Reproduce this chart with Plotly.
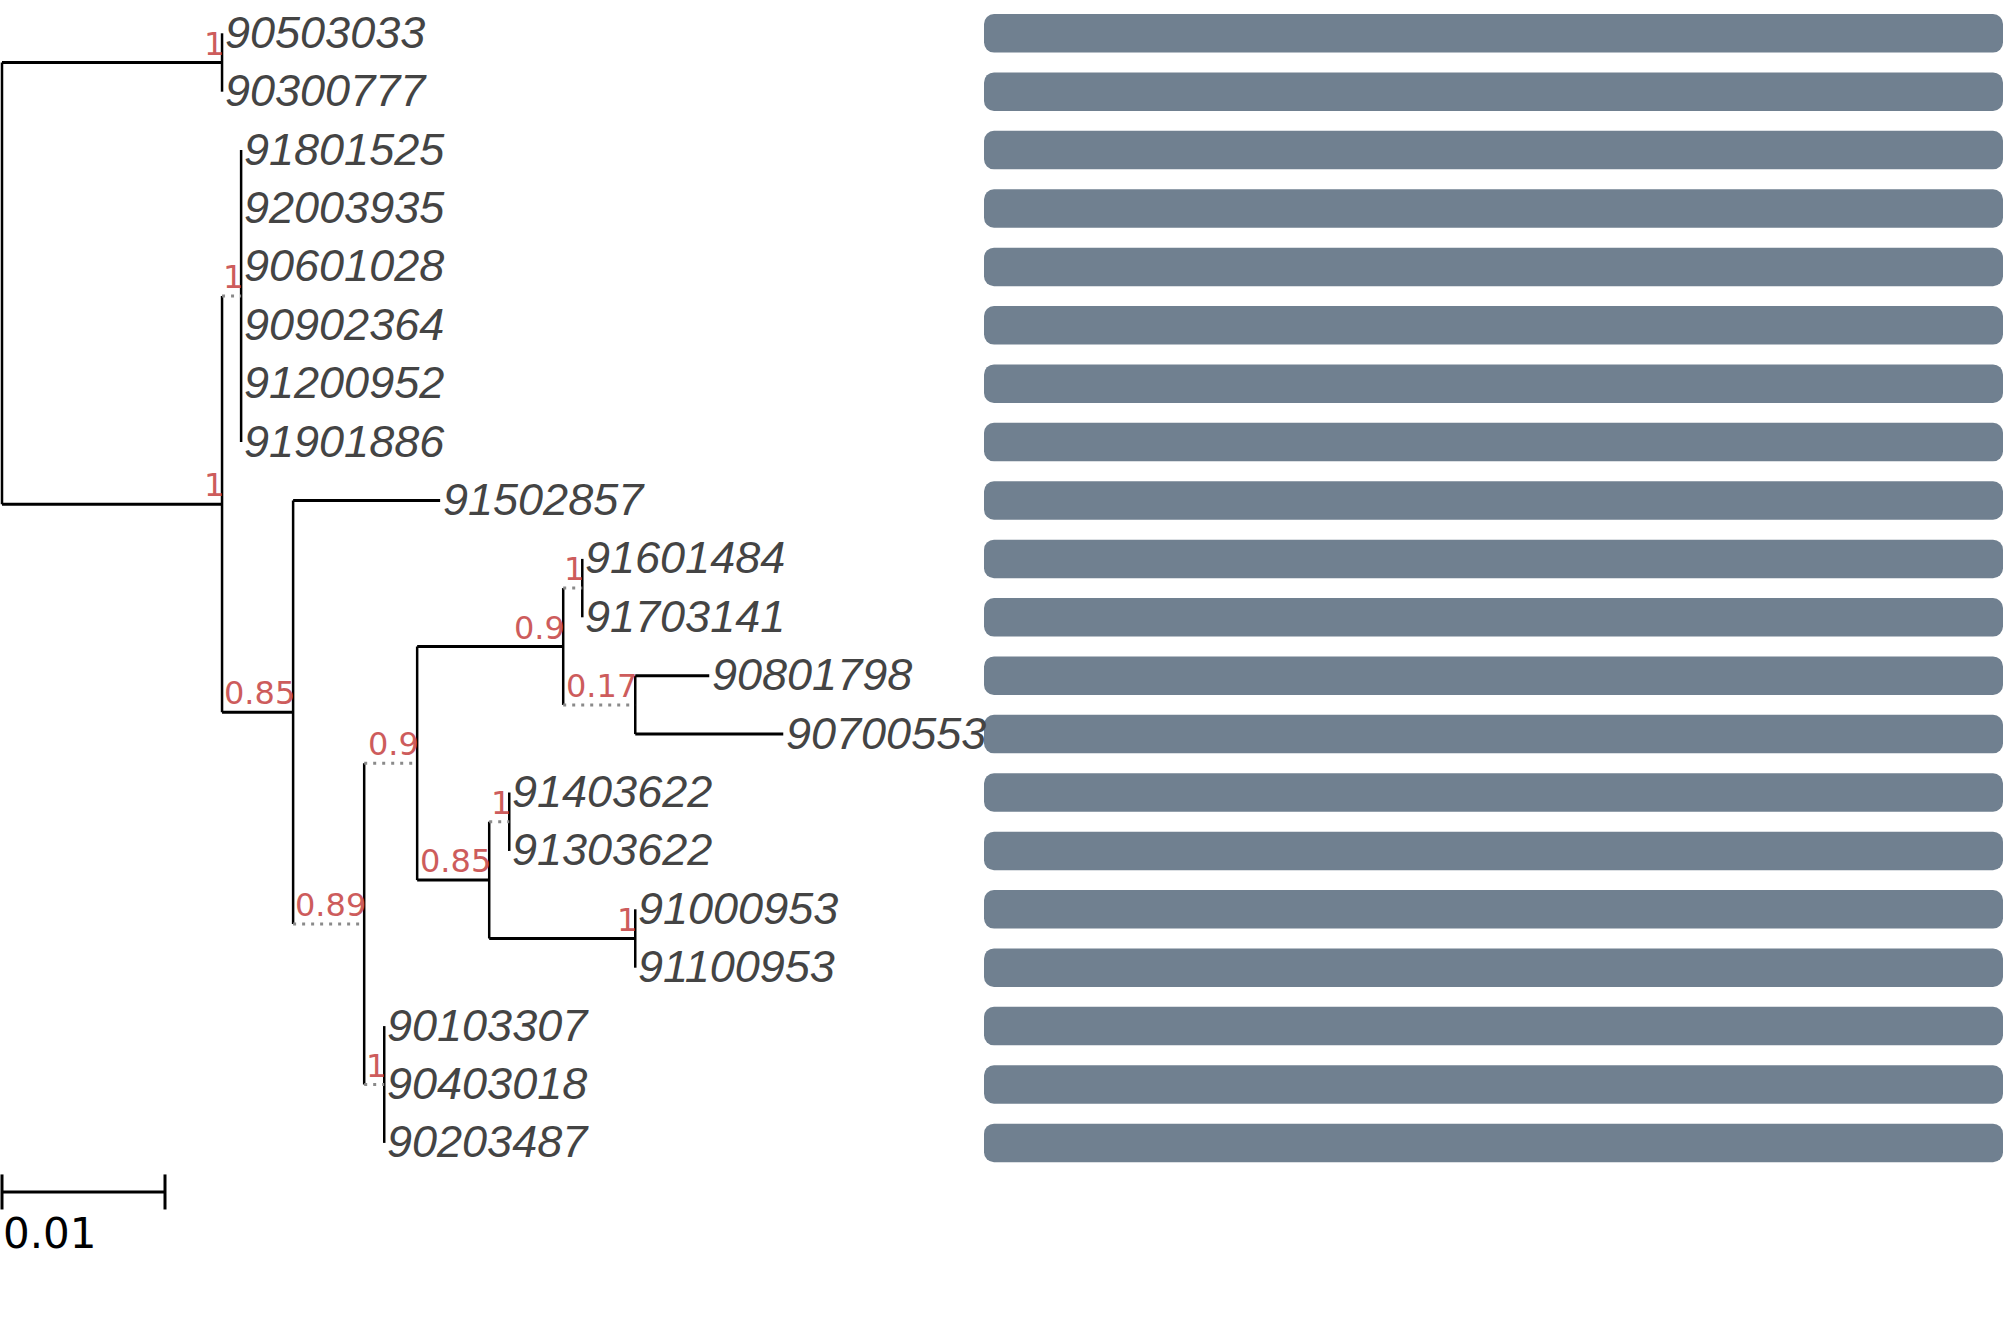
import plotly.graph_objects as go

# tree: internal nodes (branch lengths in substitutions/site)
node_id = ["root", "a", "b", "c", "d", "e", "f", "h", "i", "j", "k", "l", "m", "g"]
node_parent = [None, "root", "root", "b", "b", "d", "e", "f", "h", "h", "f", "k", "k", "e"]
node_length = [0, 0.0135, 0.0135, 0.00117, 0.00436, 0.00436, 0.00325, 0.00896,
               0.00117, 0.00442, 0.00442, 0.00123, 0.00896, 0.00123]
node_support = [None, "1", "1", "1", "0.85", "0.89", "0.9", "0.9", "1", "0.17", "0.85", "1", "1", "1"]
node_dotted = [False, False, False, True, False, True, True, False, True, True, False, True, False, True]

# leaves, top to bottom
leaf_names = ["90503033", "90300777", "91801525", "92003935", "90601028", "90902364",
              "91200952", "91901886", "91502857", "91601484", "91703141", "90801798",
              "90700553", "91403622", "91303622", "91000953", "91100953", "90103307",
              "90403018", "90203487"]
leaf_parent = ["a", "a", "c", "c", "c", "c", "c", "c", "d", "i", "i", "j", "j",
               "l", "l", "m", "m", "g", "g", "g"]
leaf_length = [0, 0, 0, 0, 0, 0, 0, 0, 0.00902, 0, 0, 0.00454, 0.00908,
               0, 0, 0, 0, 0, 0, 0]

# bar face next to every leaf
bar_values = [1.0] * len(leaf_names)

scale_length = 0.01
scale_label = "0.01"

# ---- layout of the tree
parent = dict(zip(node_id, node_parent))
parent.update(dict(zip(leaf_names, leaf_parent)))
length = dict(zip(node_id, node_length))
length.update(dict(zip(leaf_names, leaf_length)))

children = {n: [] for n in node_id}
for n, p in zip(node_id, node_parent):
    if p is not None:
        children[p].append(n)
for n, p in zip(leaf_names, leaf_parent):
    children[p].append(n)

xpos = {}
def set_x(n, x0):
    xpos[n] = x0 + length[n]
    for c in children.get(n, []):
        set_x(c, xpos[n])
set_x("root", 0.0)

ypos = {name: i for i, name in enumerate(leaf_names)}
def set_y(n):
    if n in ypos:
        return ypos[n]
    ys = [set_y(c) for c in children[n]]
    ypos[n] = (min(ys) + max(ys)) / 2
    return ypos[n]
set_y("root")

dotted = dict(zip(node_id, node_dotted))

hx, hy, dx, dy, vx, vy = [], [], [], [], [], []
for n in node_id[1:] + leaf_names:
    p = parent[n]
    if length[n] <= 0:
        continue
    if dotted.get(n, False):
        dx += [xpos[p], xpos[n], None]
        dy += [ypos[n], ypos[n], None]
    else:
        hx += [xpos[p], xpos[n], None]
        hy += [ypos[n], ypos[n], None]
for n in node_id:
    ys = [ypos[c] for c in children[n]]
    vx += [xpos[n], xpos[n], None]
    vy += [min(ys), max(ys), None]

fig = go.Figure()
fig.add_trace(go.Scatter(x=vx, y=vy, mode="lines", line=dict(color="black", width=2.5),
                         hoverinfo="skip", showlegend=False))
fig.add_trace(go.Scatter(x=hx, y=hy, mode="lines", line=dict(color="black", width=3),
                         hoverinfo="skip", showlegend=False))
fig.add_trace(go.Scatter(x=dx, y=dy, mode="lines",
                         line=dict(color="#8a8a8a", width=3, dash="3px,6px"),
                         hoverinfo="skip", showlegend=False))

# bars next to the leaves
rows = list(range(len(leaf_names)))
fig.add_trace(go.Bar(x=bar_values, base=[0] * len(bar_values),
                     y=rows, orientation="h", width=0.66, xaxis="x2",
                     marker=dict(color="#708090", line=dict(width=0), cornerradius=10),
                     hoverinfo="skip", showlegend=False))

# scale bar
sy = len(leaf_names) - 0.16
fig.add_trace(go.Scatter(x=[0, scale_length, None, 0, 0, None, scale_length, scale_length],
                         y=[sy, sy, None, sy - 0.3, sy + 0.3, None, sy - 0.3, sy + 0.3],
                         mode="lines", line=dict(color="black", width=3),
                         hoverinfo="skip", showlegend=False))

annotations = []
for name in leaf_names:
    annotations.append(dict(x=xpos[name], y=ypos[name], text="<i>" + name + "</i>",
                            xanchor="left", yanchor="middle", xshift=1, yshift=1, showarrow=False,
                            font=dict(family="Liberation Sans", size=45, color="#444444")))
for n, s in zip(node_id, node_support):
    if s is None:
        continue
    annotations.append(dict(x=xpos[n], y=ypos[n], text=s, xanchor="right", yanchor="bottom",
                            xshift=4, yshift=-2, showarrow=False,
                            font=dict(family="DejaVu Sans", size=32, color="#cd5c5c")))
annotations.append(dict(x=0, y=sy + 0.71, text=scale_label, xanchor="left", yanchor="middle",
                        showarrow=False, xshift=-1,
                        font=dict(family="DejaVu Sans", size=42, color="black")))

W, H = 2007, 1338
fig.update_layout(
    width=W, height=H,
    margin=dict(l=0, r=0, t=0, b=0),
    paper_bgcolor="white", plot_bgcolor="white",
    annotations=annotations,
    xaxis=dict(range=[-2 / 16300, (W - 2) / 16300], visible=False, domain=[0, 1]),
    xaxis2=dict(range=[0, 1], visible=False, domain=[984 / W, 2003 / W], anchor="y"),
    yaxis=dict(range=[(H - 33.3) / 58.4, -33.3 / 58.4], visible=False),
)

fig.write_html("out.html", config={"displayModeBar": False},
               post_script="document.body.style.margin='0';")
